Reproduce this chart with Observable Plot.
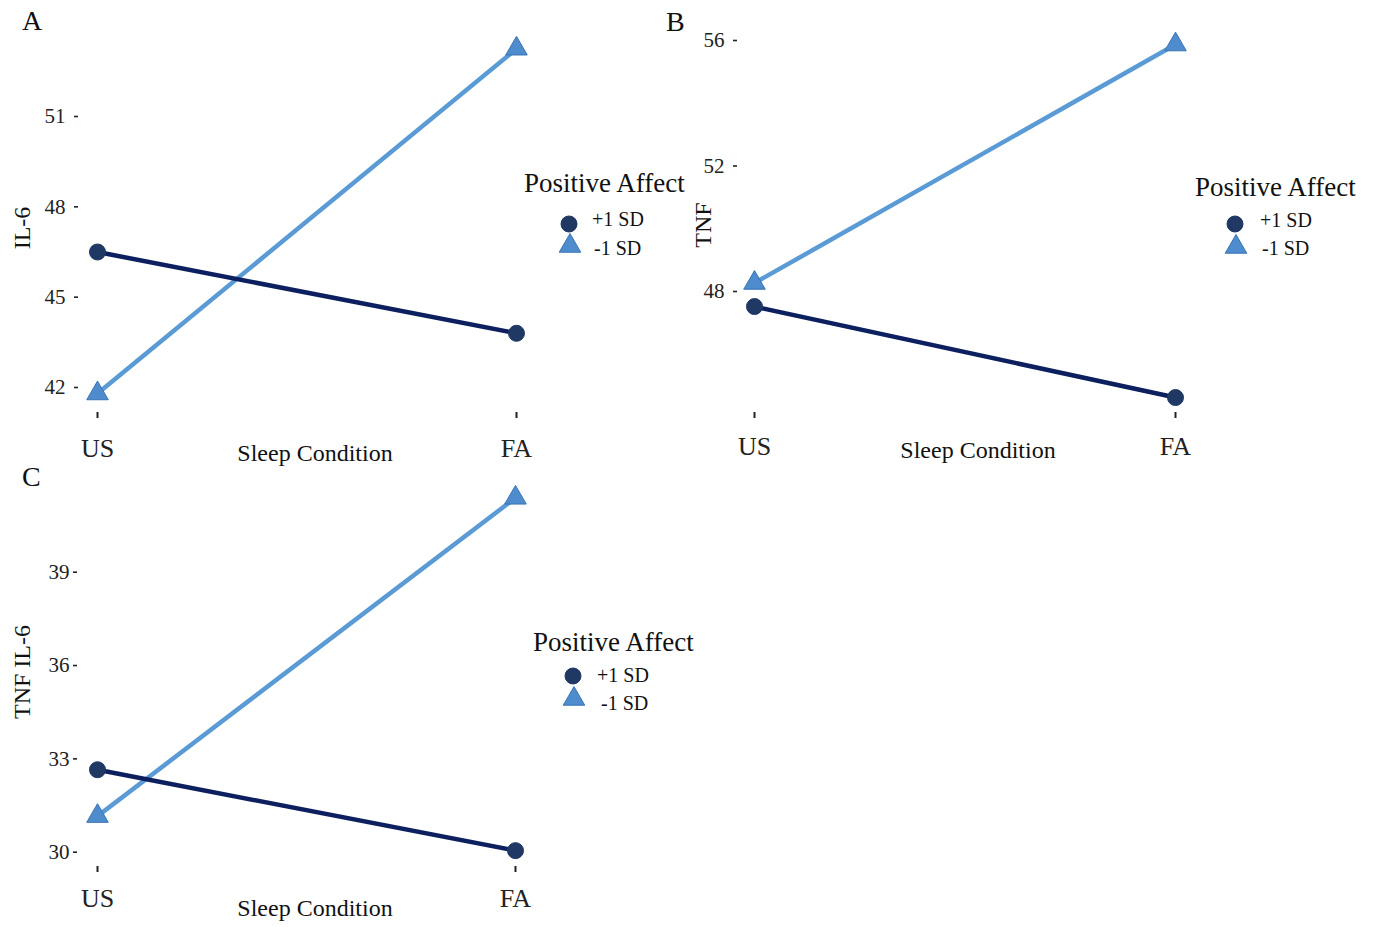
<!DOCTYPE html>
<html>
<head>
<meta charset="utf-8">
<script src="https://cdn.jsdelivr.net/npm/d3@7"></script>
<script src="https://cdn.jsdelivr.net/npm/@observablehq/plot@0.6"></script>
<style>
  html, body { margin: 0; padding: 0; background: #fff; }
  #root { position: relative; width: 1376px; height: 927px; overflow: hidden; font-family: "Liberation Serif", "DejaVu Serif", serif; color: #111; }
  .panel { position: absolute; }
  .lbl { position: absolute; white-space: nowrap; line-height: 1; }
  .c { transform: translate(-50%, -50%); }
  .l { transform: translate(0, -50%); }
  .rot { transform: translate(-50%, -50%) rotate(-90deg); }
  .sym { position: absolute; overflow: visible; }
</style>
</head>
<body>
<div id="root"></div>
<script>
// ---- data ----
const conditions = ["US", "FA"];
const groups = ["+1 SD", "-1 SD"];
const legendTitle = "Positive Affect";
const xTitle = "Sleep Condition";

// Panel A: IL-6
const il6Plus = [46.5, 43.8];
const il6Minus = [41.8, 53.25];
const il6Ticks = [42, 45, 48, 51];

// Panel B: TNF
const tnfPlus = [47.52, 44.62];
const tnfMinus = [48.27, 55.87];
const tnfTicks = [48, 52, 56];

// Panel C: TNF IL-6
const tnfil6Plus = [32.65, 30.05];
const tnfil6Minus = [31.16, 41.39];
const tnfil6Ticks = [30, 33, 36, 39];

const colDark = "#0c1f5e";
const colDarkDot = "#1f3864";
const colLight = "#5b9bd5";
const colLightDot = "#4e8ccd";
const colLightStroke = "#3a74b3";

function rows(plus, minus) {
  const out = [];
  conditions.forEach((c, i) => out.push({condition: c, group: groups[1], value: minus[i]}));
  conditions.forEach((c, i) => out.push({condition: c, group: groups[0], value: plus[i]}));
  return out;
}

function panel(cfg) {
  const data = rows(cfg.plus, cfg.minus);
  const light = data.filter(d => d.group === groups[1]);
  const dark = data.filter(d => d.group === groups[0]);
  return Plot.plot({
    width: cfg.width,
    height: cfg.height,
    marginLeft: cfg.marginLeft,
    marginBottom: cfg.marginBottom,
    marginTop: 0,
    marginRight: 0,
    style: {fontFamily: "Liberation Serif, serif", fontSize: "21px", color: "#222", background: "transparent", overflow: "visible"},
    x: {type: "point", domain: conditions, range: cfg.xRange, padding: 0},
    y: {domain: cfg.yDomain, range: cfg.yRange},
    marks: [
      Plot.axisY({ticks: cfg.ticks, tickSize: 4, tickPadding: cfg.tickPadY, fontSize: 21, label: null, strokeWidth: 1.6}),
      Plot.axisX({tickSize: 6, tickPadding: cfg.tickPadX, fontSize: 26, label: null, strokeWidth: 2}),
      Plot.line(light, {x: "condition", y: "value", stroke: colLight, strokeWidth: 4.5}),
      Plot.line(dark, {x: "condition", y: "value", stroke: colDark, strokeWidth: 4.5}),
      Plot.dot(light, {x: "condition", y: "value", symbol: "triangle", r: 8, fill: colLightDot, stroke: colLightStroke, strokeWidth: 1}),
      Plot.dot(dark, {x: "condition", y: "value", symbol: "circle", r: 8, fill: colDarkDot, stroke: colDarkDot, strokeWidth: 1})
    ]
  });
}

const root = document.getElementById("root");

function place(el, left, top) {
  el.classList.add("panel");
  el.style.left = left + "px";
  el.style.top = top + "px";
  root.appendChild(el);
}

function label(text, x, y, size, cls) {
  const d = document.createElement("div");
  d.className = "lbl " + cls;
  d.textContent = text;
  d.style.left = x + "px";
  d.style.top = y + "px";
  d.style.fontSize = size + "px";
  root.appendChild(d);
}

function symbol(kind, cx, cy) {
  const ns = "http://www.w3.org/2000/svg";
  const s = document.createElementNS(ns, "svg");
  s.setAttribute("class", "sym");
  s.setAttribute("width", 24);
  s.setAttribute("height", 24);
  s.style.left = (cx - 12) + "px";
  s.style.top = (cy - 12) + "px";
  const p = document.createElementNS(ns, "path");
  const size = Math.PI * 8 * 8;
  const sym = kind === "circle" ? d3.symbolCircle : d3.symbolTriangle;
  p.setAttribute("d", d3.symbol(sym, size)());
  p.setAttribute("transform", "translate(12,12)");
  p.setAttribute("fill", kind === "circle" ? colDarkDot : colLightDot);
  p.setAttribute("stroke", kind === "circle" ? colDarkDot : colLightStroke);
  s.appendChild(p);
  root.appendChild(s);
}

function legend(L) {
  label(legendTitle, L.tx, L.ty, 27, "l");
  symbol("circle", L.sx1, L.sy1);
  label(groups[0], L.lx1, L.ly1, 20, "l");
  symbol("triangle", L.sx2, L.sy2);
  label(groups[1], L.lx2, L.ly2, 20, "l");
}

// Panel A
place(panel({width: 660, height: 465, marginLeft: 78, marginBottom: 53,
  xRange: [97, 516], yDomain: [42, 51], yRange: [387, 116], ticks: il6Ticks,
  plus: il6Plus, minus: il6Minus, tickPadY: 9, tickPadX: 20}), 0, 0);
// Panel B
place(panel({width: 716, height: 465, marginLeft: 77, marginBottom: 53,
  xRange: [94, 515], yDomain: [48, 56], yRange: [291, 40], ticks: tnfTicks,
  plus: tnfPlus, minus: tnfMinus, tickPadY: 9, tickPadX: 18}), 660, 0);
// Panel C
place(panel({width: 660, height: 467, marginLeft: 77, marginBottom: 61,
  xRange: [97, 515], yDomain: [30, 39], yRange: [391.7, 111.7], ticks: tnfil6Ticks,
  plus: tnfil6Plus, minus: tnfil6Minus, tickPadY: 4, tickPadX: 16}), 0, 460);

// Panel letters
label("A", 22, 21, 28, "l");
label("B", 666, 22, 28, "l");
label("C", 22, 477, 28, "l");

// Axis titles
label("IL-6", 22, 228, 24, "rot");
label("TNF", 703, 225, 24, "rot");
label("TNF IL-6", 22, 672, 24, "rot");
label(xTitle, 315, 453, 24, "c");
label(xTitle, 978, 450, 24, "c");
label(xTitle, 315, 908, 24, "c");

// Legends
legend({tx: 524, ty: 183, sx1: 569, sy1: 224, lx1: 592, ly1: 219, sx2: 570, sy2: 246, lx2: 594, ly2: 248});
legend({tx: 1195, ty: 187, sx1: 1235, sy1: 224, lx1: 1260, ly1: 220, sx2: 1236, sy2: 247, lx2: 1262, ly2: 248});
legend({tx: 533, ty: 642, sx1: 573, sy1: 676, lx1: 597, ly1: 675, sx2: 574, sy2: 699, lx2: 601, ly2: 703});
</script>
</body>
</html>
